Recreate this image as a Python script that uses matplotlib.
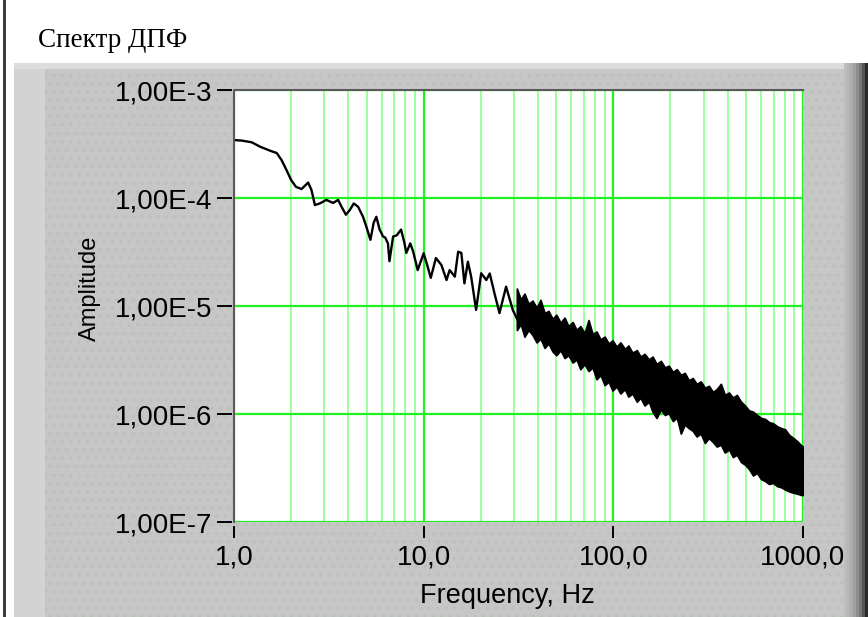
import numpy as np
import matplotlib
matplotlib.use('Agg')
import matplotlib.pyplot as plt
from matplotlib.patches import Rectangle
from matplotlib.ticker import FixedLocator, FixedFormatter, LogLocator, NullLocator

plt.rcParams['font.family'] = ['Liberation Sans', 'DejaVu Sans']

W, H = 868, 617

# low-frequency part of the spectrum (read point by point)
line_f = [1.00, 1.10, 1.24, 1.37, 1.55, 1.68, 1.78, 1.89, 2.00, 2.12, 2.27, 2.46, 2.56,
          2.67, 2.83, 3.07, 3.33, 3.54, 3.69, 3.89, 4.07, 4.28, 4.51, 4.79, 4.99, 5.24,
          5.45, 5.63, 5.86, 6.11, 6.27, 6.48, 6.60, 6.90, 7.20, 7.60, 7.90, 8.10, 8.50,
          8.80, 9.30, 10.0, 10.5, 10.9, 11.6, 12.4, 13.2, 13.7, 14.6, 15.2, 15.8, 16.4,
          17.1, 17.8, 18.9, 20.1, 21.4, 22.3, 23.6, 25.1, 27.2, 29.5, 31.3]
line_amp = [3.44e-4, 3.40e-4, 3.28e-4, 2.99e-4, 2.74e-4, 2.61e-4, 2.25e-4, 1.82e-4, 1.47e-4,
            1.27e-4, 1.21e-4, 1.39e-4, 1.19e-4, 8.6e-5, 8.9e-5, 9.6e-5, 9.0e-5, 9.6e-5,
            8.3e-5, 7.0e-5, 7.7e-5, 8.9e-5, 8.3e-5, 6.7e-5, 5.4e-5, 4.1e-5, 5.9e-5, 6.7e-5,
            5.1e-5, 4.4e-5, 4.3e-5, 3.8e-5, 2.6e-5, 4.4e-5, 4.5e-5, 5.1e-5, 3.9e-5, 3.1e-5,
            3.8e-5, 3.2e-5, 2.15e-5, 3.08e-5, 2.31e-5, 1.82e-5, 2.78e-5, 2.40e-5, 1.74e-5,
            2.15e-5, 1.87e-5, 3.18e-5, 3.1e-5, 1.62e-5, 2.57e-5, 1.87e-5, 9.2e-6, 2.01e-5,
            1.74e-5, 2.0e-5, 1.32e-5, 8.6e-6, 1.51e-5, 9.2e-6, 7.4e-6]

# dense part: upper and lower envelope of the noise band
band_f = [31, 32.5, 34, 35.7, 37.5, 39.4, 41.3, 43.4, 45.5, 47.8, 50, 52.7, 55.3, 58, 61,
          64, 67, 70.5, 74, 77.7, 81.5, 85.6, 90, 94.4, 99, 104, 109, 115, 120, 126, 133,
          139, 146, 154, 161, 169, 178, 187, 196, 206, 216, 227, 238, 250, 262, 275, 289,
          304, 319, 335, 351, 369, 387, 407, 427, 448, 471, 494, 519, 545, 572, 601, 631,
          662, 695, 730, 767, 805, 845, 888, 932, 980, 1000]
band_hi = [1.45e-5, 1.15e-5, 1.30e-5, 1.05e-5, 1.12e-5, 9.6e-6, 1.14e-5, 8.6e-6, 9.0e-6,
           7.6e-6, 8.3e-6, 7.0e-6, 7.8e-6, 6.5e-6, 7.1e-6, 6.0e-6, 6.5e-6, 5.6e-6, 7.4e-6,
           5.5e-6, 5.8e-6, 4.9e-6, 5.2e-6, 4.5e-6, 4.8e-6, 4.2e-6, 4.6e-6, 4.0e-6, 4.3e-6,
           3.7e-6, 3.9e-6, 3.4e-6, 3.6e-6, 3.2e-6, 3.4e-6, 2.9e-6, 3.1e-6, 2.7e-6, 2.8e-6,
           2.45e-6, 2.6e-6, 2.3e-6, 2.4e-6, 2.05e-6, 2.15e-6, 1.9e-6, 2.0e-6, 1.75e-6,
           1.82e-6, 1.6e-6, 1.7e-6, 1.9e-6, 1.5e-6, 1.58e-6, 1.42e-6, 1.5e-6, 1.3e-6, 1.2e-6,
           1.08e-6, 1.05e-6, 9.8e-7, 9.2e-7, 9.0e-7, 8.4e-7, 8.2e-7, 7.7e-7, 7.4e-7, 7.2e-7,
           6.4e-7, 6.0e-7, 5.6e-7, 5.1e-7, 5.0e-7]
band_lo = [6.0e-6, 6.8e-6, 5.2e-6, 6.0e-6, 5.4e-6, 4.6e-6, 5.0e-6, 4.1e-6, 4.5e-6, 3.8e-6,
           3.5e-6, 3.9e-6, 3.3e-6, 3.5e-6, 3.0e-6, 3.2e-6, 2.6e-6, 2.9e-6, 2.5e-6, 2.7e-6,
           2.1e-6, 2.3e-6, 1.85e-6, 2.0e-6, 1.65e-6, 1.8e-6, 1.55e-6, 1.7e-6, 1.45e-6,
           1.55e-6, 1.30e-6, 1.42e-6, 1.20e-6, 1.30e-6, 1.05e-6, 9.2e-7, 1.10e-6, 9.8e-7,
           1.02e-6, 8.6e-7, 9.3e-7, 6.6e-7, 8.0e-7, 7.4e-7, 7.0e-7, 6.2e-7, 6.6e-7, 5.4e-7,
           6.0e-7, 5.5e-7, 5.0e-7, 5.2e-7, 4.4e-7, 4.7e-7, 4.0e-7, 4.2e-7, 3.6e-7, 3.4e-7,
           3.1e-7, 2.7e-7, 2.85e-7, 2.5e-7, 2.4e-7, 2.25e-7, 2.3e-7, 2.15e-7, 2.1e-7, 2.0e-7,
           1.92e-7, 1.87e-7, 1.83e-7, 1.78e-7, 1.78e-7]

x_ticks = [1, 10, 100, 1000]
x_labels = ['1,0', '10,0', '100,0', '1000,0']
y_ticks = [1e-7, 1e-6, 1e-5, 1e-4, 1e-3]
y_labels = ['1,00E-7', '1,00E-6', '1,00E-5', '1,00E-4', '1,00E-3']

fig = plt.figure(figsize=(W / 100, H / 100), dpi=100)
fig.patch.set_facecolor('white')


def box(x0, y0, x1, y1, **kw):
    # pixel box, origin top-left
    fig.patches.append(Rectangle((x0 / W, 1 - y1 / H), (x1 - x0) / W, (y1 - y0) / H,
                                 transform=fig.transFigure, figure=fig, zorder=-5, **kw))


# LabVIEW-like panel
box(14, 63, 868, 617, fc='#c6c6c6', ec='#bac0ba', lw=0, hatch='..')
box(14, 63, 845, 69, fc='#dcdcdc', lw=0)
box(14, 69, 45, 617, fc='#d3d3d3', lw=0)
greys = ['#bdbdbd', '#b5b5b5', '#ababab', '#a0a0a0', '#8e8e8e', '#777777', '#555555', '#2a2a2a']
for i, c in enumerate(greys):
    box(844 + 3 * i, 63, 847 + 3 * i, 617, fc=c, lw=0)
box(3, 0, 6, 617, fc='#3c3c3c', lw=0)

ax = fig.add_axes([234 / W, 1 - 522 / H, (803 - 234) / W, (522 - 90) / H])
ax.set_facecolor('white')
ax.set_xscale('log')
ax.set_yscale('log')
ax.set_xlim(1, 1000)
ax.set_ylim(1e-7, 1e-3)

ax.xaxis.set_major_locator(FixedLocator(x_ticks))
ax.xaxis.set_major_formatter(FixedFormatter(x_labels))
ax.xaxis.set_minor_locator(LogLocator(base=10, subs=np.arange(2, 10)))
ax.yaxis.set_major_locator(FixedLocator(y_ticks))
ax.yaxis.set_major_formatter(FixedFormatter(y_labels))
ax.yaxis.set_minor_locator(NullLocator())

ax.set_axisbelow(True)
ax.grid(which='minor', axis='x', color='#80ff80', lw=1.1)
ax.grid(which='major', color='#20f020', lw=1.6)

ax.plot(line_f, line_amp, color='black', lw=1.7)
ax.fill_between(band_f, band_lo, band_hi, color='black', lw=1.3)

for s in ax.spines.values():
    s.set_visible(False)
ax.spines['left'].set_position(('outward', 1.5))
ax.spines['bottom'].set_position(('outward', 3))
ax.plot([0, 0, 1], [0, 1, 1], transform=ax.transAxes, color='#5a5a5a', lw=1.5,
        clip_on=False, zorder=5)

ax.tick_params(axis='y', which='major', length=10.5, width=1.4, pad=3.6, labelsize=20)
ax.tick_params(axis='x', which='major', length=8.6, width=1.4, pad=4.3, labelsize=20)
ax.tick_params(which='minor', length=0)

fig.text(38 / W, 1 - 47 / H, 'Спектр ДПФ', family='Liberation Serif', fontsize=19.5,
         va='baseline')
fig.text(507 / W, 1 - 603 / H, 'Frequency, Hz', ha='center', va='baseline', fontsize=19.5)
fig.text(90 / W, 1 - 288 / H, 'Amplitude', rotation=90, ha='center', va='center',
         fontsize=17)

fig.savefig('out.png', dpi=100)
